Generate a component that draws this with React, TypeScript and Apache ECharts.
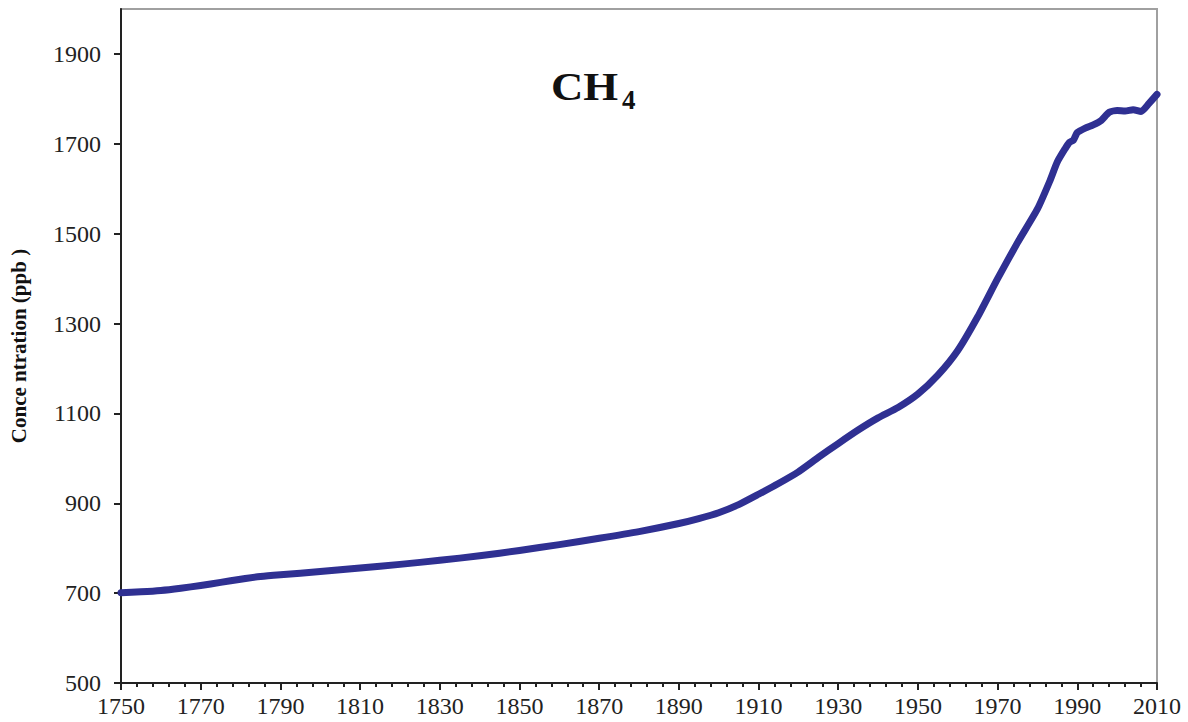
import React, { useEffect, useRef } from "react";
import * as echarts from "echarts";

const years = [1750, 1755, 1760, 1765, 1770, 1775, 1780, 1785, 1790, 1800, 1810, 1820, 1830, 1840, 1850, 1860, 1870, 1880, 1890, 1895, 1900, 1905, 1910, 1915, 1920, 1925, 1930, 1935, 1940, 1945, 1950, 1955, 1960, 1965, 1970, 1975, 1980, 1983, 1985, 1987, 1988, 1989, 1990, 1992, 1994, 1996, 1998, 2000, 2002, 2004, 2006, 2008, 2010];
const ch4 = [701, 703, 706, 711, 717, 724, 731, 737, 741, 748, 756, 764, 773, 783, 795, 808, 822, 837, 855, 866, 879, 897, 920, 944, 970, 1002, 1033, 1063, 1090, 1113, 1143, 1185, 1240, 1315, 1400, 1480, 1555, 1615, 1660, 1690, 1703, 1708, 1725, 1735, 1742, 1752, 1770, 1774, 1773, 1776, 1772, 1790, 1810];
const yTicks = [500, 700, 900, 1100, 1300, 1500, 1700, 1900];
const yName = "Conce ntration (ppb )";

export default function App() {
  const ref = useRef<HTMLDivElement>(null);
  useEffect(() => {
    if (!ref.current) return;
    const chart = echarts.init(ref.current, null, { renderer: "svg" });
    const font = "'Liberation Serif', 'Times New Roman', serif";
    chart.setOption({
      animation: false,
      backgroundColor: "#ffffff",
      textStyle: { fontFamily: font },
      grid: { left: 121, right: 31, top: 9, bottom: 39, show: true, borderColor: "#a0a0a0", borderWidth: 2, backgroundColor: "transparent" },
      graphic: [
        { type: "text", left: 551, top: 66, scaleX: 1.12, style: { text: "CH", font: `bold 40px ${font}`, fill: "#111" } },
        { type: "text", left: 622, top: 86, style: { text: "4", font: `bold 27px ${font}`, fill: "#111" } },
      ],
      xAxis: {
        type: "value",
        min: 1750,
        max: 2010,
        interval: 20,
        axisLine: { show: true, lineStyle: { color: "#222", width: 2 } },
        axisTick: { show: true, length: 7, lineStyle: { color: "#222", width: 2 } },
        minorTick: { show: true, splitNumber: 5, length: 4, lineStyle: { color: "#222", width: 2 } },
        splitLine: { show: false },
        axisLabel: { margin: 11, fontSize: 24, color: "#222", fontFamily: font, formatter: (v: number) => String(v) },
      },
      yAxis: {
        type: "value",
        min: 500,
        max: 2000,
        interval: 200,
        name: yName,
        nameLocation: "middle",
        nameGap: 92,
        nameRotate: 90,
        nameTextStyle: { fontSize: 21, fontWeight: "bold", color: "#111", fontFamily: font },
        axisLine: { show: true, lineStyle: { color: "#222", width: 2 } },
        axisTick: { show: true, length: 7, customValues: yTicks, lineStyle: { color: "#222", width: 2 } },
        splitLine: { show: false },
        axisLabel: { margin: 20, fontSize: 24, color: "#222", fontFamily: font, customValues: yTicks, formatter: (v: number) => String(v) },
      },
      series: [
        {
          type: "line",
          data: years.map((y, i) => [y, ch4[i]]),
          showSymbol: false,
          smooth: 0.2,
          lineStyle: { color: "#2f3092", width: 7, cap: "round", join: "round" },
        },
      ],
    });
    return () => chart.dispose();
  }, []);
  return <div ref={ref} style={{ position: "fixed", left: 0, top: 0, width: 1188, height: 722, background: "#fff" }} />;
}
